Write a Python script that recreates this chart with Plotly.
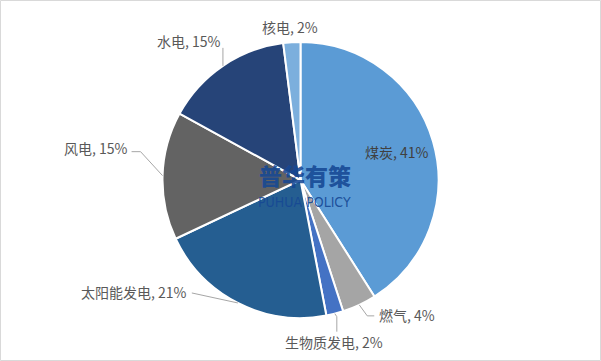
import math
import plotly.graph_objects as go

labels = ["煤炭", "燃气", "生物质发电", "太阳能发电", "风电", "水电", "核电"]
values = [41, 4, 2, 21, 15, 15, 2]
colors = ["#5B9BD5", "#A5A5A5", "#4472C4", "#255E91", "#636363", "#264478", "#7CAFDD"]

W, HT = 601, 361
T, B = 42, 43
H = HT - T - B
CX, CY, R = W / 2, T + H / 2, H / 2

# label layout styles: (mode, dx, dy, xanchor, leader elbow offsets)
styles = {
    "煤炭": dict(r=0.73, anchor="center", text_dx=0, text_dy=0, line=None),
    "燃气": dict(r=1.0, anchor="left", text_dx=18, text_dy=10, line=[(8, 11), (15, 11)]),
    "生物质发电": dict(r=1.0, anchor="center", text_dx=-1, text_dy=28, line=[(2, 3), (2, 18)]),
    "太阳能发电": dict(r=1.0, anchor="right", text_dx=-49, text_dy=-11, line=[(-46, -10)]),
    "风电": dict(r=1.0, anchor="right", text_dx=-33, text_dy=-28, line=[(-22, -24), (-31, -24)]),
    "水电": dict(r=1.0, anchor="center", text_dx=-34, text_dy=-25, line=[(0, -1), (0, -18)]),
    "核电": dict(r=1.0, anchor="center", text_dx=-2, text_dy=-15, line=None),
}

def px2paper(x, y):
    return x / W, (HT - B - y) / H

fig = go.Figure(go.Pie(
    labels=labels, values=values, sort=False, direction="clockwise", rotation=0,
    marker=dict(colors=colors, line=dict(color="white", width=2)),
    textinfo="none", hoverinfo="label+percent",
    showlegend=False, automargin=False,
))

total = sum(values)
cum = 0
for lab, v in zip(labels, values):
    mid = (cum + v / 2) / total * 2 * math.pi
    cum += v
    st = styles[lab]
    ex = CX + R * st["r"] * math.sin(mid)
    ey = CY - R * st["r"] * math.cos(mid)
    pct = round(v / total * 100)
    tx, ty = ex + st["text_dx"], ey + st["text_dy"]
    px_, py_ = px2paper(tx, ty)
    fig.add_annotation(text=f"{lab}, {pct}%", x=px_, y=py_, xref="paper", yref="paper",
                       xanchor=st["anchor"], yanchor="middle", showarrow=False,
                       font=dict(family="Noto Sans CJK SC", size=14,
                                 color="#404040" if st["r"] < 1 else "#595959"))
    if st["line"]:
        pts = [(ex, ey)] + [(ex + a, ey + b) for a, b in st["line"]]
        path = "M " + " L ".join(
            f"{px2paper(x, y)[0]},{px2paper(x, y)[1]}" for x, y in pts)
        fig.add_shape(type="path", path=path, xref="paper", yref="paper",
                      line=dict(color="#A6A6A6", width=1))

fig.add_shape(type="rect", xref="paper", yref="paper",
              x0=0.5 / W, x1=(W - 0.5) / W,
              y0=-(B - 0.5) / H, y1=1 + (T - 0.5) / H,
              line=dict(color="#D9D9D9", width=1))
wx, wy = px2paper(305, 175)
fig.add_annotation(text="普华有策", x=wx, y=wy, xref="paper", yref="paper", showarrow=False,
                   font=dict(family="Noto Sans CJK SC", size=23, weight=900,
                             color="rgba(22,72,148,0.9)"))
wx, wy = px2paper(304, 202)
fig.add_annotation(text="PUHUA POLICY", x=wx, y=wy, xref="paper", yref="paper", showarrow=False,
                   font=dict(family="Liberation Sans Narrow, DejaVu Sans Condensed, Roboto", size=14,
                             color="rgba(22,72,148,0.9)"))

fig.update_layout(width=W, height=HT, margin=dict(l=0, r=0, t=T, b=B),
                  paper_bgcolor="white", plot_bgcolor="white")
fig.write_html("out.html")
